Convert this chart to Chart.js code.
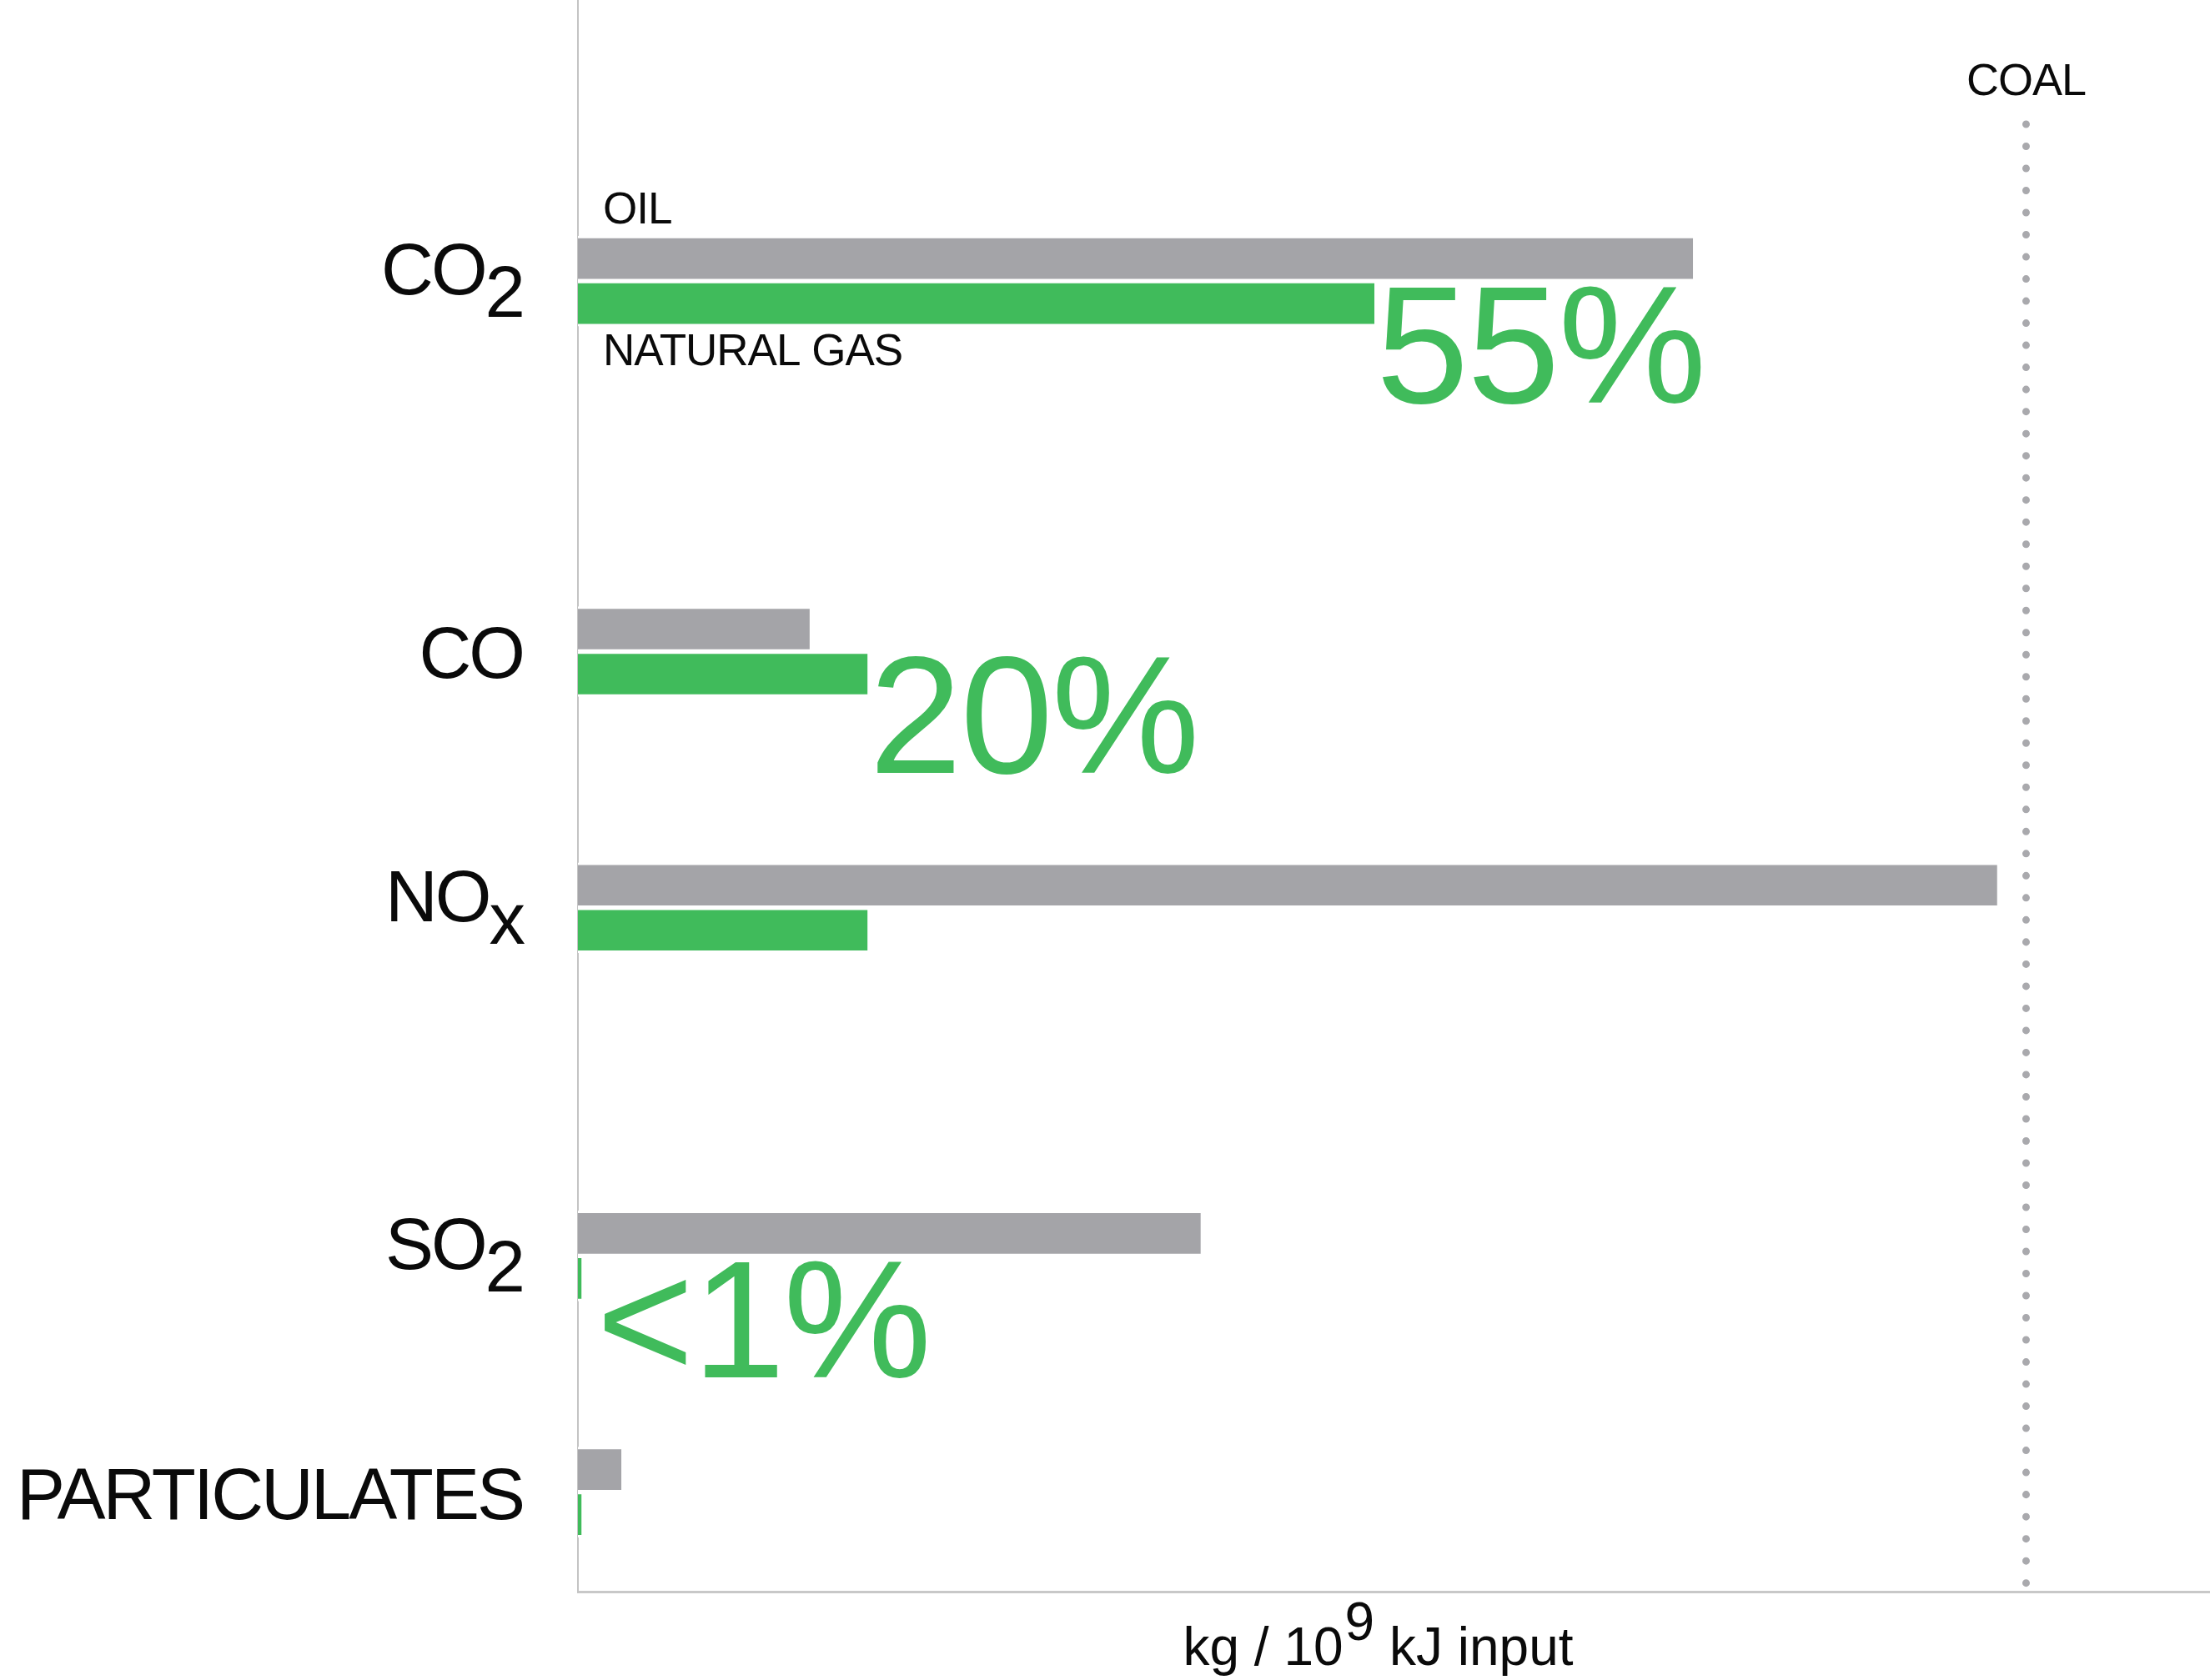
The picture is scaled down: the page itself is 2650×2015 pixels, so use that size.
<!DOCTYPE html>
<html>
<head>
<meta charset="utf-8">
<title>Emissions from natural gas, oil and coal</title>
<script src="https://cdn.jsdelivr.net/npm/chart.js@4.4.1/dist/chart.umd.min.js"></script>
<style>
  html, body { margin: 0; padding: 0; background: #fff; }
  canvas { display: block; }
</style>
</head>
<body>
<canvas id="grafico" width="2650" height="2015"></canvas>
<script>
// emissions as a share of coal's level (coal = 100)
const pollutants = ['CO2', 'CO', 'NOx', 'SO2', 'PARTICULATES'];
const oil = [77, 16, 98, 43, 3];
const naturalGas = [55, 20, 20, 0.25, 0.25];
const gasCallout = [true, true, false, true, false];
const coalLevel = 100;
const seriesNames = ['OIL', 'NATURAL GAS'];
const coalName = 'COAL';
const unitLabel = ['kg / 10', '9', ' kJ input'];

// rows are not evenly spaced, this is where each one sits on the y scale
const rowAt = [1.13, 2.62, 3.65, 5.05, 6.0];

const GRIS = '#a4a4a8';
const VERDE = '#40bb5b';
const TINTA = '#0a0a0a';
const fonte = (px) => `${px}px "Liberation Sans", Arial, sans-serif`;

const pontos = (vals) => vals.map((v, i) => ({ x: v, y: rowAt[i] }));

// CO2 -> CO + 2, NOx -> NO + x (drawn lower, same size)
function partes(nome) {
  const m = nome.match(/^([A-Z]+)([0-9x])$/);
  return m ? [m[1], m[2]] : [nome, ''];
}

const textos = {
  id: 'textos',
  beforeDatasetsDraw(chart) {
    const { ctx, chartArea, scales: { x } } = chart;
    const cx = x.getPixelForValue(coalLevel);
    ctx.save();
    ctx.strokeStyle = '#a9a9ad';
    ctx.lineWidth = 9;
    ctx.lineCap = 'round';
    ctx.setLineDash([0.01, 26.5]);
    ctx.beginPath();
    ctx.moveTo(cx, 149);
    ctx.lineTo(cx, chartArea.bottom);
    ctx.stroke();
    ctx.restore();
  },
  afterDraw(chart) {
    const { ctx, chartArea, scales: { x, y } } = chart;
    ctx.save();
    ctx.fillStyle = TINTA;
    ctx.textBaseline = 'alphabetic';

    // pollutant names on the left
    ctx.font = fonte(87);
    ctx.letterSpacing = '-3px';
    pollutants.forEach((nome, i) => {
      const cy = y.getPixelForValue(rowAt[i]);
      const [base, sub] = partes(nome);
      const direita = chartArea.left - 66;
      ctx.textAlign = 'right';
      if (sub) {
        const w = ctx.measureText(sub).width;
        ctx.fillText(base, direita - w, cy + 16);
        ctx.fillText(sub, direita, cy + 43);
      } else {
        ctx.fillText(base, direita, cy + 32);
      }
    });

    // series names next to the first row
    const oleo = chart.getDatasetMeta(0).data[0];
    const gas = chart.getDatasetMeta(1).data[0];
    ctx.font = fonte(53);
    ctx.letterSpacing = '-1px';
    ctx.textAlign = 'left';
    ctx.fillText(seriesNames[0], chartArea.left + 30, oleo.y - oleo.height / 2 - 15);
    ctx.fillText(seriesNames[1], chartArea.left + 30, gas.y + gas.height / 2 + 47);

    // coal reference label
    const cx = x.getPixelForValue(coalLevel);
    ctx.font = fonte(54);
    ctx.textAlign = 'center';
    ctx.fillText(coalName, cx, 114);

    // percentage callouts on the gas bars
    ctx.font = fonte(200);
    ctx.letterSpacing = '-2px';
    ctx.textAlign = 'left';
    ctx.fillStyle = VERDE;
    chart.getDatasetMeta(1).data.forEach((bar, i) => {
      if (!gasCallout[i]) return;
      const v = naturalGas[i];
      const txt = v < 1 ? '<1%' : Math.round(v) + '%';
      const topo = bar.y - bar.height / 2 + 3;
      const folga = v < 1 ? 18 : 2;
      ctx.fillText(txt, bar.x + folga, topo + 143);
    });

    // unit under the x axis, with raised exponent
    ctx.fillStyle = TINTA;
    ctx.font = fonte(64);
    ctx.letterSpacing = '0px';
    const [a, e, b] = unitLabel;
    const wa = ctx.measureText(a).width;
    const we = ctx.measureText(e).width;
    const wb = ctx.measureText(b).width;
    let tx = (chartArea.left + chartArea.right) / 2 - (wa + we + wb) / 2 - 20;
    const ty = chartArea.bottom + 88;
    ctx.fillText(a, tx, ty);
    ctx.fillText(e, tx + wa + 2, ty - 30);
    ctx.fillText(b, tx + wa + we + 2, ty);
    ctx.restore();
  }
};

new Chart(document.getElementById('grafico'), {
  type: 'bar',
  data: {
    datasets: [
      {
        label: seriesNames[0],
        data: pontos(oil),
        backgroundColor: GRIS,
        borderColor: '#fff',
        borderWidth: { top: 3, bottom: 3, left: 0, right: 0 },
        borderSkipped: false,
        barThickness: 54
      },
      {
        label: seriesNames[1],
        data: pontos(naturalGas),
        backgroundColor: VERDE,
        borderColor: '#fff',
        borderWidth: { top: 3, bottom: 3, left: 0, right: 0 },
        borderSkipped: false,
        barThickness: 54
      }
    ]
  },
  options: {
    indexAxis: 'y',
    responsive: false,
    animation: false,
    devicePixelRatio: 1,
    layout: { padding: 0 },
    plugins: { legend: { display: false }, tooltip: { enabled: false } },
    scales: {
      x: {
        type: 'linear',
        min: 0,
        max: 112.7,
        grid: { display: false },
        ticks: { display: false },
        border: { display: true, color: '#c8c8c8', width: 3 },
        afterFit: (s) => { s.height = 106; }
      },
      y: {
        type: 'linear',
        reverse: true,
        offset: false,
        min: 0,
        max: 6.4,
        grid: { display: false },
        ticks: { display: false },
        border: { display: true, color: '#c4c4c4', width: 2 },
        afterFit: (s) => { s.width = 693; }
      }
    }
  },
  plugins: [textos]
});
</script>
</body>
</html>
